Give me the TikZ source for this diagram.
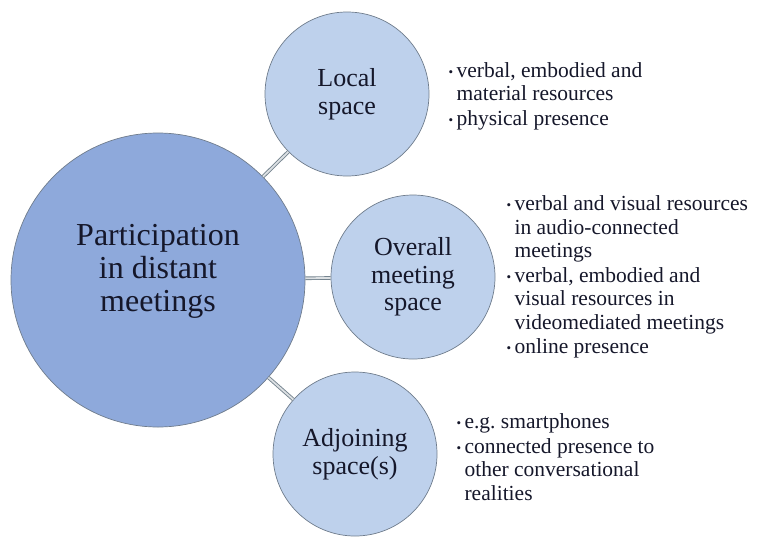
\documentclass[tikz,border=0pt]{standalone}
\usepackage{fontspec}
\setmainfont{Liberation Serif}
\usetikzlibrary{positioning}

\definecolor{hubblue}{HTML}{8EA9DB}
\definecolor{spaceblue}{HTML}{BED1EC}
\definecolor{rimgray}{HTML}{6F7C8C}
\definecolor{linkgray}{HTML}{75848F}
\definecolor{inktext}{HTML}{15172A}

\newcommand{\bul}{\makebox[8pt][l]{\raisebox{0.1ex}{\fontsize{13}{13}\selectfont\textbullet}}}
\newcommand{\ind}{\hspace*{8pt}}

\begin{document}
\begin{tikzpicture}[
  x=1pt, y=1pt,
  hub/.style={circle, draw=rimgray, line width=0.7pt, fill=hubblue,
    minimum size=294pt, align=center, text=inktext,
    font=\fontsize{32}{33}\selectfont},
  space/.style={circle, draw=rimgray, line width=0.7pt, fill=spaceblue,
    minimum size=164pt, align=center, text=inktext,
    font=\fontsize{26}{27.5}\selectfont},
  info/.style={align=left, inner sep=0pt, anchor=west, text=inktext,
    font=\fontsize{21.5}{23.5}\selectfont},
  link/.style={draw=linkgray, line width=0.9pt, double=white!75!linkgray,
    double distance=1.8pt},
]
\useasboundingbox (0,0) rectangle (759,-536);

\node[hub, text depth=24pt] (part) at (158,-280) {Participation\\in distant\\meetings};
\node[space] (loc) at (347,-94) {Local\\space};
\node[space] (ovr) at (413,-277) {Overall\\meeting\\space};
\node[space] (adj) at (355,-454) {Adjoining\\space(s)};

\draw[link] (part) -- (loc);
\draw[link] (part) -- (ovr);
\draw[link] (part) -- (adj);

\node[info, right=19pt of loc, yshift=-2pt] (locinfo)
  {\bul verbal, embodied and\\\ind material resources\\[1pt]
   \bul physical presence};
\node[info, right=11pt of ovr] (ovrinfo)
  {\bul verbal and visual resources\\\ind in audio-connected\\\ind meetings\\[1pt]
   \bul verbal, embodied and\\\ind visual resources in\\\ind videomediated meetings\\[1pt]
   \bul online presence};
\node[info, right=19pt of adj, yshift=-3pt] (adjinfo)
  {\bul e.g.\ smartphones\\[1pt]
   \bul connected presence to\\\ind other conversational\\\ind realities};
\end{tikzpicture}
\end{document}
